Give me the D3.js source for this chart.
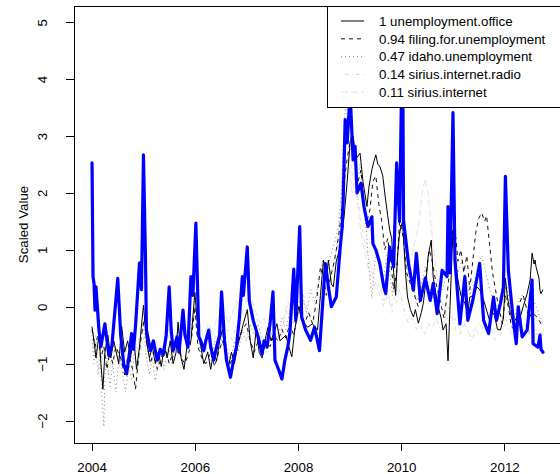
<!DOCTYPE html>
<html>
<head>
<meta charset="utf-8">
<script src="https://cdn.jsdelivr.net/npm/d3@7"></script>
<style>
  body { margin: 0; background: #fff; }
  svg { display: block; }
  text { font-family: "Liberation Sans", Arial, sans-serif; font-size: 13.3px; fill: #000; }
</style>
</head>
<body>
<script>
// weekly series, points are [week number since 2004-01-04, scaled value]
var target = [[0,2.53],[1,0.53],[2,0.41],[3,-0.06],[4,0.35],[7,-0.41],[9,-0.7],[13,-0.3],[17,-0.86],[20,-0.7],[22,-0.3],[26,0.5],[29,-0.5],[32,-1.0],[35,-1.18],[38,-0.8],[40,-0.47],[42,-0.75],[44,-0.33],[48,0.77],[50,0.3],[52,2.67],[54,0.9],[55,-0.41],[59,-0.77],[62,-0.6],[66,-0.94],[69,-0.75],[72,-0.85],[75,-0.5],[78,0.35],[80,-0.4],[82,-0.77],[86,-0.53],[88,-0.8],[92,-0.06],[94,-0.5],[97,-0.71],[98,-0.3],[100,0.53],[102,0.2],[105,1.47],[108,-0.53],[110,-0.6],[113,-0.77],[115,-0.6],[118,-0.41],[120,-0.7],[123,-0.94],[126,-0.7],[129,-0.5],[131,0.26],[134,-0.6],[136,-0.94],[140,-1.24],[143,-0.95],[146,-0.71],[149,-0.2],[152,0.53],[153,0.2],[157,1.05],[159,0.1],[163,-0.24],[168,-0.53],[172,-0.83],[174,-0.6],[177,-0.71],[180,-0.3],[183,0.26],[185,-0.94],[189,-1.12],[192,-1.27],[195,-0.94],[198,-0.7],[200,-0.47],[204,0.66],[206,-0.24],[210,1.41],[212,-0.18],[216,-0.41],[221,-0.59],[225,-0.36],[230,-0.77],[233,0.0],[236,0.76],[239,0.35],[242,0.0],[247,0.17],[251,1.05],[253,1.41],[254,1.9],[256,3.29],[258,2.88],[261,3.75],[264,2.58],[266,2.82],[268,2.0],[272,2.17],[275,1.76],[279,1.41],[283,1.58],[284,1.11],[287,1.0],[291,0.76],[295,0.35],[297,0.23],[301,1.05],[305,0.7],[308,2.53],[311,1.5],[314,5.0],[315,1.52],[320,0.76],[325,0.29],[328,0.94],[332,0.11],[337,0.5],[342,0.11],[345,0.41],[349,-0.12],[354,0.64],[359,0.53],[360,1.76],[362,0.6],[365,3.41],[367,0.82],[372,-0.3],[377,0.53],[380,-0.24],[385,0.11],[392,0.76],[396,-0.24],[401,-0.47],[406,0.17],[409,-0.24],[413,0.06],[416,0.35],[418,2.29],[421,0.64],[426,-0.24],[429,-0.65],[431,0.0],[435,-0.53],[440,-0.41],[445,0.47],[446,-0.65],[451,-0.71],[453,-0.5],[454,-0.75],[456,-0.8]];

var unemploymentOffice = [[0,-0.35],[2,-0.6],[4,-0.9],[7,-0.5],[9,-1.0],[11,-1.45],[13,-0.8],[16,-0.5],[19,-0.9],[22,-0.6],[27,-1.0],[30,-0.35],[33,-0.8],[36,-0.6],[39,-0.9],[42,-0.5],[45,-1.1],[48,-0.7],[52,0.03],[55,-0.6],[58,-0.9],[61,-0.7],[64,-1.0],[67,-0.8],[70,-1.05],[73,-0.7],[76,-0.9],[79,-0.6],[82,-1.0],[85,-0.8],[87,-0.27],[90,-0.9],[93,-1.1],[96,-0.7],[100,-0.6],[104,0.25],[107,-0.4],[110,-0.7],[113,-1.0],[117,-0.8],[120,-1.1],[123,-0.8],[126,-0.95],[129,-0.6],[132,-0.4],[135,-0.8],[138,-1.05],[141,-0.8],[144,-1.0],[147,-0.7],[150,-0.5],[153,-0.3],[157,-0.05],[160,-0.6],[163,-0.9],[166,-0.4],[169,-0.8],[172,-0.9],[176,-0.5],[178,-0.36],[181,-0.6],[184,-0.45],[187,-0.3],[190,-0.6],[193,-0.55],[196,-0.5],[199,-0.7],[202,-0.88],[205,-0.41],[209,0.0],[212,-0.24],[218,-0.36],[223,-0.3],[228,-0.41],[231,0.2],[234,0.82],[237,0.5],[239,0.82],[242,0.4],[244,0.35],[247,0.8],[251,1.05],[255,1.6],[258,2.2],[261,2.9],[264,3.0],[267,2.6],[271,2.7],[274,2.2],[278,1.76],[280,2.1],[283,2.41],[285,2.55],[287,2.67],[289,2.5],[291,2.47],[294,2.3],[296,2.0],[299,1.6],[301,1.35],[303,1.2],[305,0.6],[307,0.2],[309,0.9],[311,1.3],[314,1.5],[317,0.6],[319,0.17],[322,-0.05],[325,-0.18],[327,-0.05],[330,-0.29],[333,-0.1],[335,0.06],[338,0.5],[340,0.9],[343,1.17],[345,0.52],[348,0.2],[350,0.0],[353,-0.2],[355,-0.41],[358,-0.3],[360,-0.95],[362,0.0],[365,1.35],[367,0.9],[370,0.47],[373,0.2],[377,0.06],[380,-0.1],[382,0.17],[386,0.2],[389,0.35],[392,0.3],[395,0.17],[398,0.0],[402,-0.24],[405,-0.1],[407,-0.15],[410,-0.4],[413,-0.41],[416,-0.2],[418,0.5],[420,0.17],[423,-0.1],[426,-0.3],[429,-0.2],[433,-0.18],[436,0.0],[440,0.23],[443,0.47],[445,0.94],[447,0.75],[448,0.82],[449,0.7],[452,0.5],[453,0.29],[454,0.23],[456,0.3]];

var filingForUnemployment = [[0,-0.4],[3,-0.7],[6,-0.5],[9,-0.9],[12,-0.7],[15,-1.1],[18,-0.8],[21,-1.0],[24,-0.7],[29,-0.9],[33,-1.2],[37,-0.8],[41,-1.1],[44,-1.45],[47,-0.9],[50,-0.5],[53,-0.2],[56,-0.7],[59,-1.0],[62,-0.8],[66,-1.1],[70,-0.9],[74,-0.7],[78,-1.0],[82,-0.8],[86,-0.6],[90,-0.9],[94,-1.0],[98,-0.8],[101,-0.5],[104,0.0],[107,-0.7],[111,-0.9],[115,-1.0],[120,-0.8],[124,-1.05],[128,-0.8],[132,-0.6],[136,-0.9],[140,-1.0],[144,-0.8],[148,-0.6],[152,-0.4],[156,-0.3],[160,-0.6],[164,-0.8],[168,-0.6],[172,-0.85],[176,-0.6],[180,-0.7],[184,-0.5],[188,-0.6],[192,-0.4],[196,-0.55],[200,-0.3],[204,-0.5],[207,-0.2],[210,0.0],[215,-0.3],[219,-0.1],[223,-0.3],[227,0.1],[231,0.7],[234,0.5],[237,0.2],[241,0.5],[245,0.8],[249,1.2],[252,1.6],[255,2.2],[258,2.6],[261,2.9],[263,3.05],[266,2.5],[269,2.2],[272,2.4],[275,1.8],[278,1.5],[281,1.7],[284,2.2],[287,2.3],[290,1.8],[293,1.5],[296,1.0],[299,1.2],[302,0.8],[305,0.3],[308,0.6],[311,1.5],[315,1.2],[318,0.6],[322,0.4],[326,0.2],[330,0.0],[334,0.3],[338,0.6],[341,1.0],[344,0.8],[348,0.4],[352,0.1],[356,-0.2],[359,0.2],[362,0.7],[365,1.4],[368,1.2],[370,0.8],[373,1.0],[376,0.6],[379,0.9],[382,0.3],[385,0.8],[388,1.3],[391,1.55],[394,1.65],[397,1.5],[399,1.6],[402,1.1],[405,0.6],[408,0.3],[411,0.0],[415,-0.3],[418,0.2],[421,0.0],[424,-0.35],[427,-0.4],[430,-0.2],[433,0.1],[436,0.2],[439,0.0],[442,-0.2],[445,-0.1],[448,-0.15],[451,-0.2],[454,-0.3],[456,-0.35]];

var idahoUnemployment = [[0,-0.5],[2,-1.0],[4,-0.6],[6,-1.2],[8,-0.8],[10,-1.6],[12,-2.11],[13,-1.2],[15,-0.9],[18,-1.4],[21,-1.0],[24,-1.5],[28,-0.8],[31,-1.2],[34,-1.5],[37,-1.0],[40,-1.3],[43,-0.8],[46,-1.1],[49,-0.6],[52,-0.3],[55,-0.9],[58,-1.2],[61,-0.9],[64,-1.3],[67,-1.0],[70,-0.8],[73,-1.1],[77,-0.7],[81,-1.0],[85,-0.6],[89,-0.8],[93,-1.0],[97,-0.7],[101,-0.3],[104,-0.1],[107,-0.5],[111,-0.9],[115,-0.7],[120,-1.0],[124,-0.6],[128,-0.8],[132,-0.5],[136,-0.7],[140,-1.0],[144,-0.6],[148,-0.8],[152,-0.4],[156,-0.6],[160,-0.3],[164,-0.5],[168,-0.3],[172,-0.6],[176,-0.8],[180,-0.4],[184,-0.6],[188,-0.5],[192,-0.2],[196,-0.4],[200,-0.1],[204,-0.3],[208,0.0],[212,0.2],[217,-0.1],[221,0.3],[225,0.1],[229,0.4],[233,0.8],[237,0.5],[241,0.9],[245,1.1],[249,1.4],[252,2.0],[255,3.3],[257,3.6],[259,3.0],[262,2.7],[265,2.9],[268,2.2],[271,2.5],[274,1.8],[277,1.4],[280,0.7],[283,0.15],[286,0.8],[289,1.0],[292,0.7],[295,0.5],[298,0.9],[301,0.6],[304,0.2],[307,0.5],[310,1.2],[314,1.4],[317,0.8],[321,0.5],[325,0.3],[329,0.1],[333,0.4],[337,0.7],[340,0.4],[344,0.2],[348,0.0],[352,0.2],[356,0.4],[360,0.6],[363,1.3],[365,1.9],[367,1.0],[370,0.6],[374,0.8],[378,0.5],[382,0.2],[386,0.4],[390,0.7],[394,0.9],[398,0.6],[402,0.3],[406,0.1],[410,-0.1],[415,0.1],[419,0.4],[423,0.0],[427,-0.2],[431,0.1],[435,0.2],[439,0.0],[443,-0.2],[447,0.1],[451,-0.1],[456,-0.3]];

var siriusInternetRadio = [[0,-0.6],[4,-0.9],[8,-1.1],[12,-0.8],[16,-1.2],[20,-0.9],[24,-0.7],[29,-1.0],[33,-0.8],[37,-1.1],[41,-0.9],[45,-0.7],[49,-0.8],[53,-0.5],[57,-0.8],[61,-0.7],[65,-0.9],[69,-0.7],[73,-0.8],[77,-0.5],[81,-0.7],[85,-0.5],[89,-0.6],[93,-0.5],[97,-0.7],[101,-0.4],[105,-0.3],[109,-0.5],[113,-0.6],[118,-0.4],[122,-0.6],[126,-0.5],[130,-0.3],[134,-0.5],[138,-0.4],[142,-0.6],[146,-0.3],[150,-0.2],[154,0.0],[158,0.3],[162,0.0],[166,-0.2],[170,-0.4],[174,-0.3],[178,-0.5],[182,-0.2],[186,-0.4],[190,-0.6],[194,-0.3],[198,0.0],[202,-0.2],[206,0.2],[210,0.6],[215,0.1],[219,-0.1],[223,-0.3],[227,-0.1],[231,0.2],[235,0.4],[239,0.2],[243,0.6],[247,0.9],[251,1.4],[254,2.4],[257,3.2],[260,2.8],[263,2.3],[266,2.6],[269,1.9],[272,1.5],[275,1.2],[279,0.9],[283,0.6],[287,0.4],[291,0.2],[295,0.0],[299,0.2],[303,-0.1],[307,0.0],[311,0.3],[316,-0.1],[320,-0.3],[324,-0.2],[328,-0.4],[332,-0.3],[336,-0.5],[340,-0.3],[344,-0.4],[348,-0.2],[352,-0.4],[356,-0.3],[360,0.0],[364,-0.2],[368,-0.4],[372,-0.5],[376,-0.3],[380,-0.4],[384,-0.6],[388,-0.4],[392,-0.5],[396,-0.3],[400,-0.5],[404,-0.4],[408,-0.6],[413,-0.5],[417,-0.3],[421,-0.4],[425,-0.5],[429,-0.6],[433,-0.5],[437,-0.4],[441,-0.5],[445,-0.3],[449,-0.5],[453,-0.4],[456,-0.5]];

var siriusInternet = [[0,-0.7],[4,-0.5],[8,-0.9],[12,-0.7],[16,-1.0],[20,-0.6],[24,-0.8],[29,-1.1],[33,-0.7],[37,-0.9],[41,-0.6],[45,-0.8],[49,-0.4],[53,-0.2],[57,-0.6],[61,-0.8],[65,-0.6],[69,-0.9],[73,-0.6],[77,-0.4],[81,-0.6],[85,-0.5],[89,-0.3],[93,-0.5],[97,-0.4],[101,-0.2],[105,0.0],[109,-0.3],[113,-0.5],[118,-0.3],[122,-0.5],[126,-0.2],[130,-0.3],[134,-0.1],[138,-0.3],[142,-0.1],[146,0.1],[150,0.0],[154,0.2],[158,0.4],[162,0.1],[166,-0.1],[170,-0.3],[174,-0.2],[178,-0.4],[182,-0.1],[186,-0.3],[190,-0.5],[194,-0.2],[198,0.1],[202,-0.1],[206,0.3],[210,0.5],[215,0.0],[219,-0.2],[223,-0.1],[227,0.1],[231,0.3],[235,0.2],[239,0.5],[243,0.7],[247,1.0],[251,1.6],[254,2.7],[257,3.0],[260,2.5],[263,2.0],[266,2.3],[269,1.7],[272,1.3],[275,1.0],[279,0.7],[283,0.5],[287,0.3],[291,0.4],[295,0.1],[299,0.3],[303,0.0],[307,0.2],[311,0.4],[317,0.3],[322,0.8],[326,1.1],[330,1.4],[334,2.0],[337,2.25],[340,2.0],[343,1.4],[347,0.8],[352,0.2],[357,-0.1],[362,-0.3],[367,-0.2],[372,-0.4],[377,-0.3],[382,-0.5],[387,-0.4],[392,-0.3],[397,-0.4],[402,-0.5],[407,-0.4],[413,-0.3],[418,-0.2],[423,-0.4],[428,-0.5],[433,-0.4],[438,-0.3],[443,-0.5],[448,-0.4],[453,-0.45],[456,-0.5]];

var legendLabels = ["1 unemployment.office", "0.94 filing.for.unemployment", "0.47 idaho.unemployment",
  "0.14 sirius.internet.radio", "0.11 sirius.internet"];
var yearTicks = [2004, 2006, 2008, 2010, 2012];
var valueTicks = [-2, -1, 0, 1, 2, 3, 4, 5];

// first week starts on 2004-01-04
function weekToYear(w) { return 2004 + (3 + 7 * w) / 365.25; }

var series = [
  { data: unemploymentOffice,    color: "#000000", dash: null,      width: 1 },
  { data: filingForUnemployment, color: "#0f0f0f", dash: "4,4",     width: 1 },
  { data: idahoUnemployment,     color: "#878787", dash: "1,3",     width: 1 },
  { data: siriusInternetRadio,   color: "#dbdbdb", dash: "1,3,4,3", width: 1 },
  { data: siriusInternet,        color: "#e3e3e3", dash: "7,3",     width: 1 }
];

var width = 560, height = 474;
var plot = { left: 74, right: 561, top: 6, bottom: 443 };

var svg = d3.select("body").append("svg")
  .attr("width", width)
  .attr("height", height);

// R style limits: data range plus 4% each side
var allPts = target.concat(unemploymentOffice, filingForUnemployment, idahoUnemployment, siriusInternetRadio, siriusInternet);
var xExt = d3.extent(allPts, function(d) { return weekToYear(d[0]); });
var yExt = d3.extent(allPts, function(d) { return d[1]; });
var xPad = (xExt[1] - xExt[0]) * 0.04, yPad = (yExt[1] - yExt[0]) * 0.04;

var x = d3.scaleLinear().domain([xExt[0] - xPad, xExt[1] + xPad]).range([plot.left, plot.right]);
var y = d3.scaleLinear().domain([yExt[0] - yPad, yExt[1] + yPad]).range([plot.bottom, plot.top]);

svg.append("clipPath").attr("id", "clip")
  .append("rect")
  .attr("x", plot.left).attr("y", plot.top)
  .attr("width", plot.right - plot.left).attr("height", plot.bottom - plot.top);

var line = d3.line()
  .x(function(d) { return x(weekToYear(d[0])); })
  .y(function(d) { return y(d[1]); });

var lines = svg.append("g").attr("clip-path", "url(#clip)");

series.slice().reverse().forEach(function(s) {
  lines.append("path")
    .attr("d", line(s.data))
    .attr("fill", "none")
    .attr("stroke", s.color)
    .attr("stroke-width", s.width)
    .attr("stroke-dasharray", s.dash)
    .attr("stroke-linejoin", "round");
});

lines.append("path")
  .attr("d", line(target))
  .attr("fill", "none")
  .attr("stroke", "#0000ff")
  .attr("stroke-width", 3.2)
  .attr("stroke-linejoin", "round")
  .attr("stroke-linecap", "round");

// axes
var xAxis = svg.append("g")
  .attr("transform", "translate(0," + plot.bottom + ")")
  .call(d3.axisBottom(x).tickValues(yearTicks).tickFormat(d3.format("d")).tickSize(8).tickSizeOuter(0));
xAxis.select(".domain").remove();
xAxis.selectAll("line").attr("stroke", "#000").attr("shape-rendering", "crispEdges");
xAxis.selectAll("text").attr("y", 29).attr("dy", 0).attr("font-size", null).attr("font-family", null);

var yAxis = svg.append("g")
  .attr("transform", "translate(" + plot.left + ",0)")
  .call(d3.axisLeft(y).tickValues(valueTicks).tickFormat(d3.format("d")).tickSize(8).tickSizeOuter(0));
yAxis.select(".domain").remove();
yAxis.selectAll("line").attr("stroke", "#000").attr("shape-rendering", "crispEdges");
yAxis.selectAll("text")
  .attr("transform", "rotate(-90)")
  .attr("x", 0).attr("y", -27).attr("dy", 0)
  .attr("text-anchor", "middle")
  .attr("font-size", null).attr("font-family", null);

svg.append("text")
  .attr("transform", "translate(28," + ((plot.top + plot.bottom) / 2) + ") rotate(-90)")
  .attr("text-anchor", "middle")
  .text("Scaled Value");

// plot box
svg.append("rect")
  .attr("x", plot.left + 0.5).attr("y", plot.top + 0.5)
  .attr("width", plot.right - plot.left).attr("height", plot.bottom - plot.top)
  .attr("fill", "none").attr("stroke", "#000");

// legend, top right
var legend = svg.append("g");
legend.append("rect")
  .attr("x", 327.5).attr("y", plot.top + 0.5)
  .attr("width", plot.right - 327.5).attr("height", 101)
  .attr("fill", "#fff").attr("stroke", "#000");

series.forEach(function(s, i) {
  var cy = 21 + i * 17.8;
  legend.append("line")
    .attr("x1", 341).attr("x2", 364)
    .attr("y1", cy).attr("y2", cy)
    .attr("stroke", s.color)
    .attr("stroke-width", s.width)
    .attr("stroke-dasharray", s.dash);
  legend.append("text")
    .attr("x", 379).attr("y", cy + 4.7)
    .text(legendLabels[i]);
});
</script>
</body>
</html>
